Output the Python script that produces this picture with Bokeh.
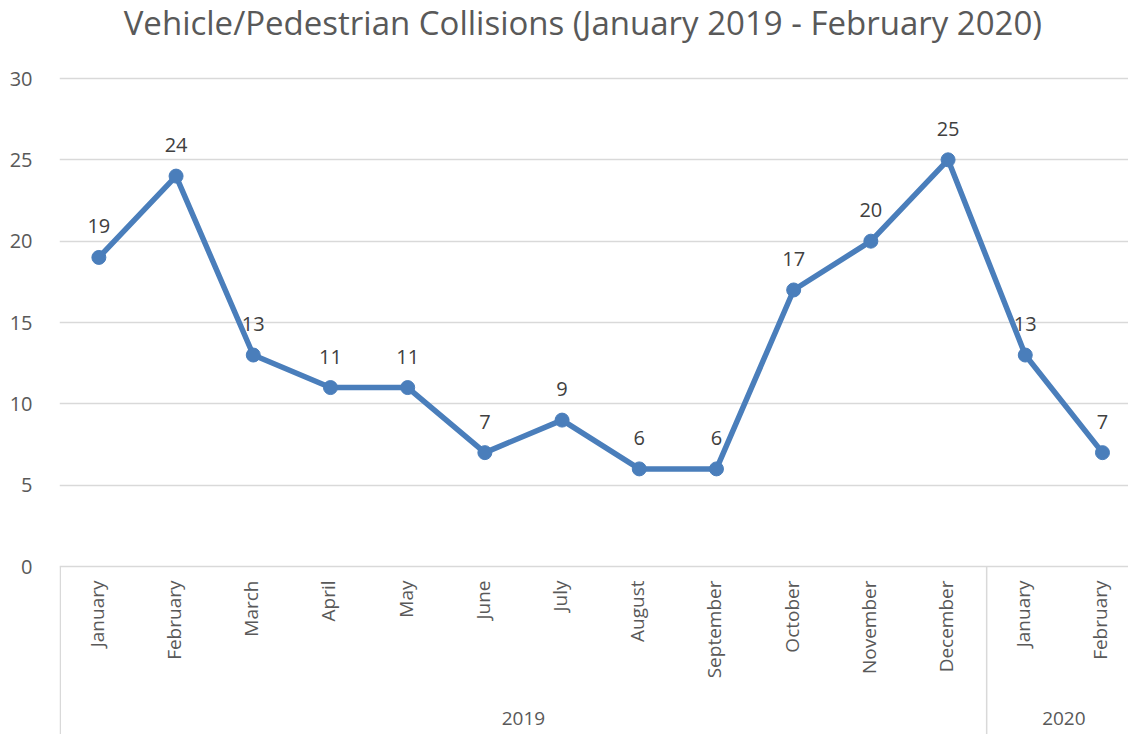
from bokeh.plotting import figure
from bokeh.models import Range1d, FixedTicker, ColumnDataSource
from bokeh.core.properties import value
from bokeh.embed import file_html
from bokeh.resources import INLINE
import math

title_text = "Vehicle/Pedestrian Collisions (January 2019 - February 2020)"
months = ["January", "February", "March", "April", "May", "June", "July",
          "August", "September", "October", "November", "December",
          "January", "February"]
years = ["2019", "2020"]
year_counts = [12, 2]
collisions = [19, 24, 13, 11, 11, 7, 9, 6, 6, 17, 20, 25, 13, 7]
y_ticks = [0, 5, 10, 15, 20, 25, 30]

FONT = "Open Sans"
GRAY = "#595959"
LINE = "#4A7EBB"
GRID = "#D9D9D9"

xs = list(range(len(months)))
px_per_y = 488 / 30.0
y_lo = -(168) / px_per_y
y_hi = 30 + 78 / px_per_y
px_per_x = 77.2
x_lo = -0.51
x_hi = x_lo + 1069 / px_per_x

p = figure(width=1128, height=734, output_backend="svg", toolbar_location=None,
           x_range=Range1d(x_lo, x_hi), y_range=Range1d(y_lo, y_hi),
           min_border_left=59, min_border_right=0, min_border_top=0, min_border_bottom=0)
p.outline_line_color = None
p.xaxis.visible = False
p.xgrid.visible = False
p.yaxis.ticker = FixedTicker(ticks=y_ticks)
p.ygrid.ticker = FixedTicker(ticks=y_ticks)
p.ygrid.grid_line_color = GRID
p.ygrid.grid_line_width = 1.5
p.yaxis.axis_line_color = None
p.yaxis.major_tick_line_color = None
p.yaxis.minor_tick_line_color = None
p.yaxis.major_label_text_font = FONT
p.yaxis.major_label_text_font_size = "20px"
p.yaxis.major_label_text_color = GRAY
p.yaxis.major_label_standoff = 21

# group separators
bounds = [-0.5]
acc = -0.5
for c in year_counts:
    acc += c
    bounds.append(acc)
p.segment(x0=bounds[:-1], y0=[0] * (len(bounds) - 1), x1=bounds[:-1], y1=[y_lo] * (len(bounds) - 1),
          line_color=GRID, line_width=1.5)

# month labels
p.text(x=xs, y=[-14 / px_per_y] * len(xs), text=months, angle=math.pi / 2,
       text_align="right", text_baseline="middle", text_font=value(FONT),
       text_font_size="19px", text_color=GRAY, x_offset=-2)

# year labels
centers = []
start = -0.5
for c in year_counts:
    centers.append(start + c / 2.0)
    start += c
p.text(x=centers, y=[-152 / px_per_y] * len(centers), text=years,
       text_align="center", text_baseline="middle", text_font=value(FONT),
       text_font_size="19px", text_color=GRAY)

src = ColumnDataSource(dict(x=xs, y=collisions, lab=[str(v) for v in collisions]))
p.line("x", "y", source=src, line_color=LINE, line_width=5.5)
p.scatter("x", "y", source=src, size=14, fill_color=LINE, line_color=LINE)
p.text("x", "y", text="lab", source=src, y_offset=-31, text_align="center",
       text_baseline="middle", text_font=value(FONT), text_font_size="20px",
       text_color="#404040")

# title
p.text(x=[(582 - 98) / px_per_x], y=[30 + (78 - 22) / px_per_y], text=[title_text],
       text_align="center", text_baseline="middle", text_font=value(FONT),
       text_font_size="33px", text_color=GRAY)

open("out.html", "w").write(file_html(p, INLINE))
